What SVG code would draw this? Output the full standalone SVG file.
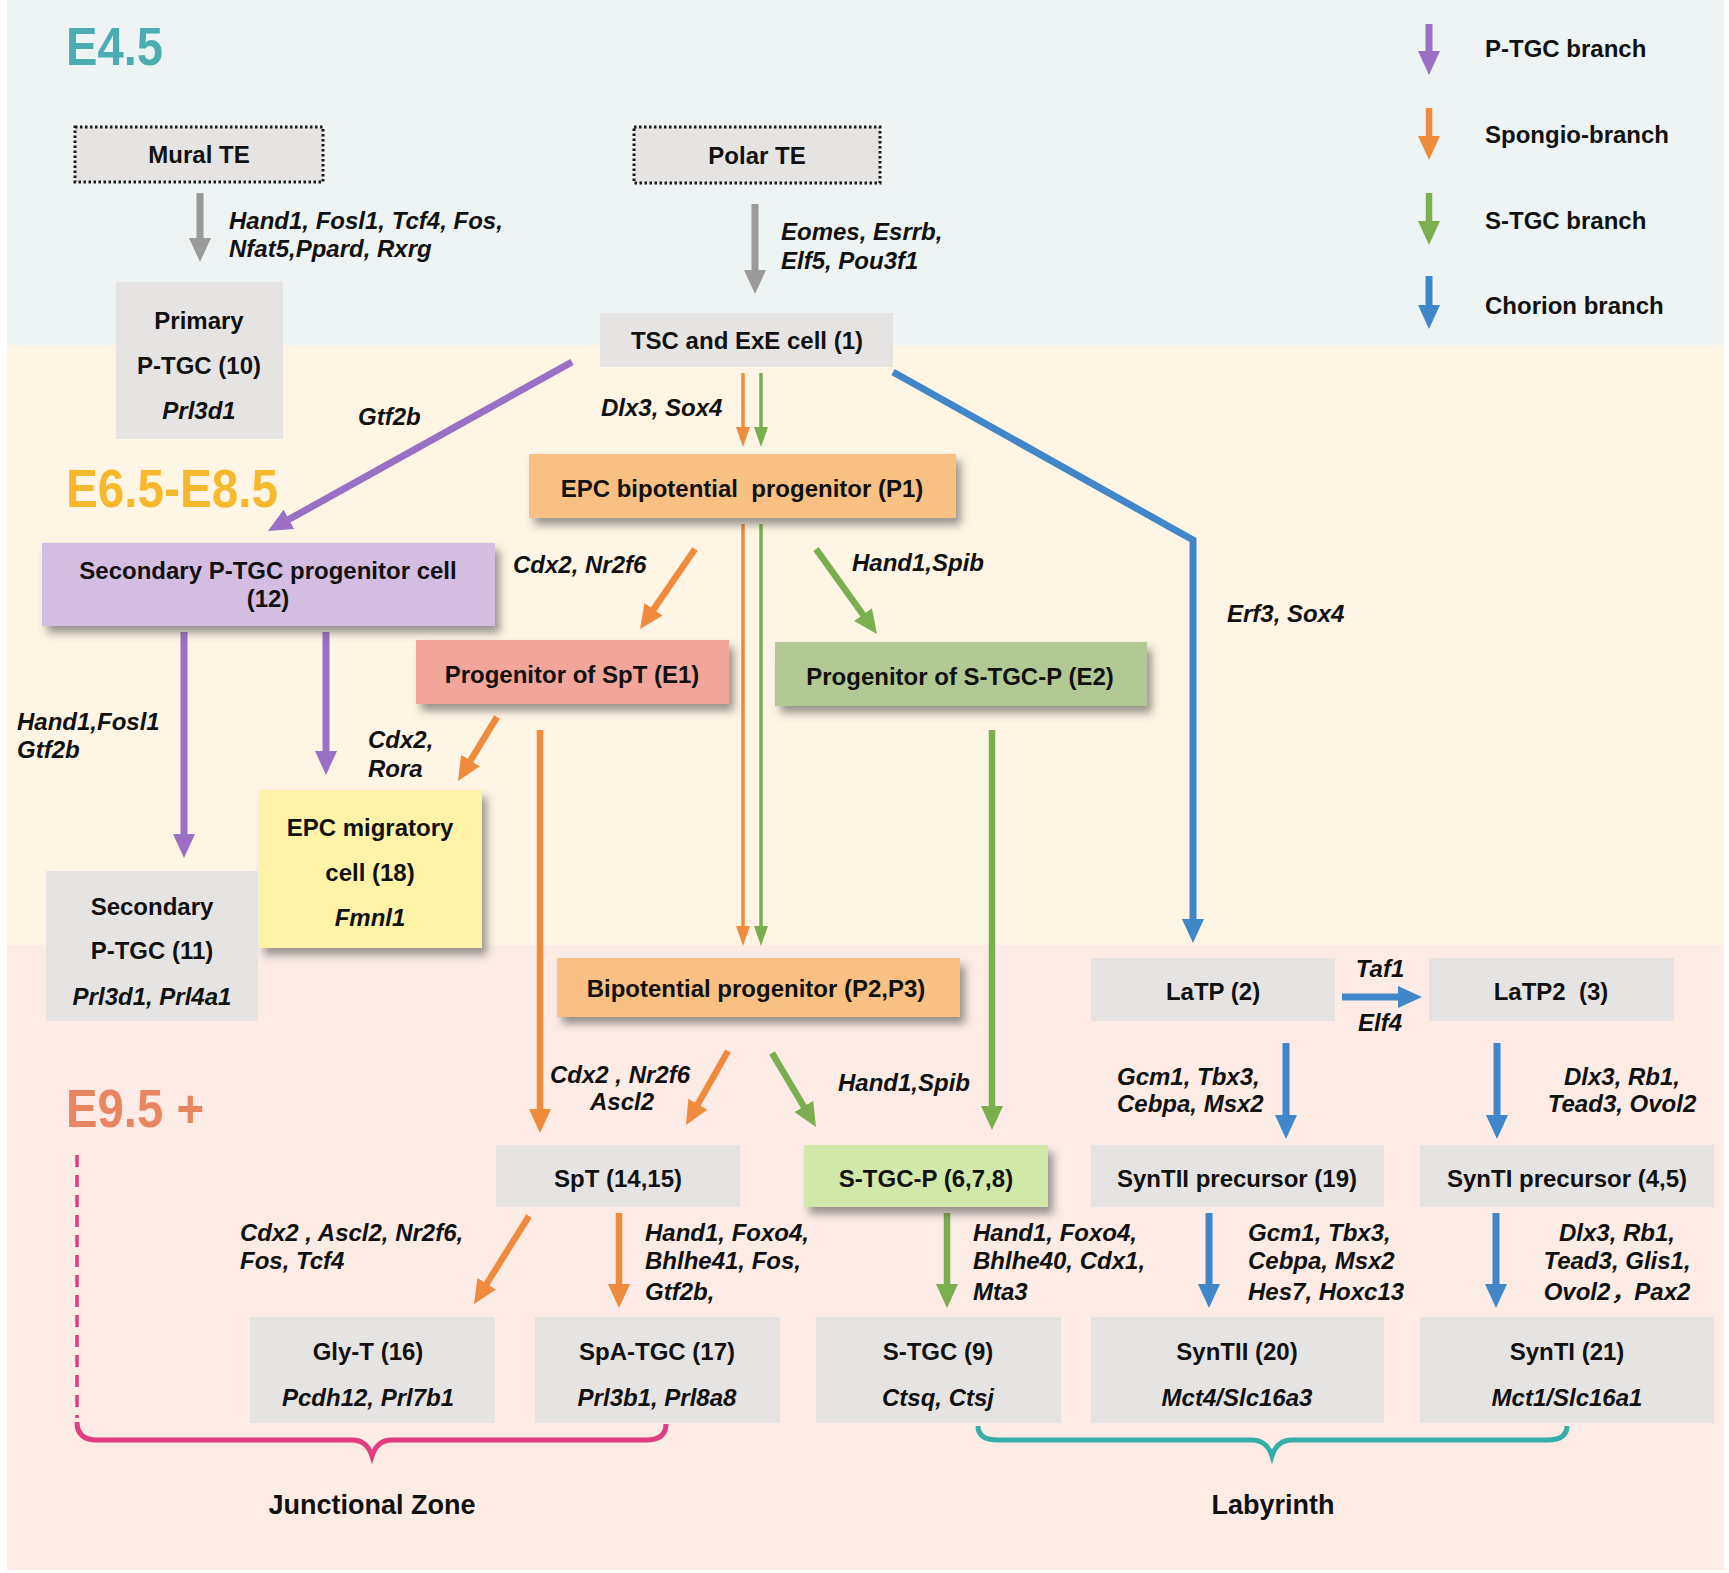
<svg xmlns="http://www.w3.org/2000/svg" width="1729" height="1573" viewBox="0 0 1729 1573">
<defs>
<style>
.t{font-family:"Liberation Sans",Arial,sans-serif;font-weight:bold;font-size:24px;fill:#111}
.i{font-style:italic}
.m{text-anchor:middle}
.pre{white-space:pre}
.stage{font-family:"Liberation Sans",Arial,sans-serif;font-weight:bold;font-size:53px}
.box{fill:#E6E4E2}
.dot{fill:#E6E4E2;stroke:#1a1a1a;stroke-width:3;stroke-dasharray:2.5 2.5}
.sh{filter:url(#shadow)}
.ln{fill:none;stroke-linecap:butt}
.gray{stroke:#9A9A9A;stroke-width:7;marker-end:url(#hGray)}
.pur{stroke:#9B6FC3;stroke-width:7;marker-end:url(#hPur)}
.org{stroke:#F08A3C;stroke-width:6.5;marker-end:url(#hOrg)}
.grn{stroke:#7BAE4F;stroke-width:6.5;marker-end:url(#hGrn)}
.blu{stroke:#3F87C9;stroke-width:7;marker-end:url(#hBlu)}
.orgT{stroke:#F08A3C;stroke-width:3.5;marker-end:url(#tOrg)}
.grnT{stroke:#7BAE4F;stroke-width:3.5;marker-end:url(#tGrn)}
</style>
<filter id="shadow" x="-10%" y="-20%" width="130%" height="160%">
<feDropShadow dx="5" dy="7" stdDeviation="4" flood-color="#4a4a4a" flood-opacity="0.55"/>
</filter>
<marker id="hGray" markerUnits="userSpaceOnUse" markerWidth="24" markerHeight="22" viewBox="0 0 24 22" refX="5" refY="11" orient="auto"><path d="M0,0 L24,11 L0,22 z" fill="#9A9A9A"/></marker>
<marker id="hPur" markerUnits="userSpaceOnUse" markerWidth="24" markerHeight="22" viewBox="0 0 24 22" refX="5" refY="11" orient="auto"><path d="M0,0 L24,11 L0,22 z" fill="#9B6FC3"/></marker>
<marker id="hOrg" markerUnits="userSpaceOnUse" markerWidth="24" markerHeight="22" viewBox="0 0 24 22" refX="5" refY="11" orient="auto"><path d="M0,0 L24,11 L0,22 z" fill="#F08A3C"/></marker>
<marker id="hGrn" markerUnits="userSpaceOnUse" markerWidth="24" markerHeight="22" viewBox="0 0 24 22" refX="5" refY="11" orient="auto"><path d="M0,0 L24,11 L0,22 z" fill="#7BAE4F"/></marker>
<marker id="hBlu" markerUnits="userSpaceOnUse" markerWidth="24" markerHeight="22" viewBox="0 0 24 22" refX="5" refY="11" orient="auto"><path d="M0,0 L24,11 L0,22 z" fill="#3F87C9"/></marker>
<marker id="tOrg" markerUnits="userSpaceOnUse" markerWidth="20" markerHeight="14" viewBox="0 0 20 14" refX="4" refY="7" orient="auto"><path d="M0,0 L20,7 L0,14 z" fill="#F08A3C"/></marker>
<marker id="tGrn" markerUnits="userSpaceOnUse" markerWidth="20" markerHeight="14" viewBox="0 0 20 14" refX="4" refY="7" orient="auto"><path d="M0,0 L20,7 L0,14 z" fill="#7BAE4F"/></marker>
</defs>
<rect width="1729" height="1573" fill="#FFFFFF"/>
<g id="bands">
<rect x="7" y="0" width="1717" height="345" fill="#EEF4F4"/>
<rect x="7" y="345" width="1717" height="600" fill="#FFF5E5"/>
<rect x="7" y="945" width="1717" height="625" fill="#FCECE5"/>
</g>
<g id="stages">
<text class="stage" x="66" y="65" textLength="97" lengthAdjust="spacingAndGlyphs" fill="#4BADB1">E4.5</text>
<text class="stage" x="66" y="507" textLength="212" lengthAdjust="spacingAndGlyphs" fill="#F6B92E">E6.5-E8.5</text>
<text class="stage" x="66" y="1127" textLength="138" lengthAdjust="spacingAndGlyphs" fill="#E98560">E9.5 +</text>
</g>
<g id="legend">
<line class="ln pur" x1="1429" y1="24" x2="1429" y2="56" stroke-width="6"/>
<line class="ln org" x1="1429" y1="108" x2="1429" y2="141" stroke-width="6"/>
<line class="ln grn" x1="1429" y1="193" x2="1429" y2="226" stroke-width="6"/>
<line class="ln blu" x1="1429" y1="276" x2="1429" y2="310" stroke-width="6"/>
<text class="t" x="1485" y="57">P-TGC branch</text>
<text class="t" x="1485" y="143">Spongio-branch</text>
<text class="t" x="1485" y="229">S-TGC branch</text>
<text class="t" x="1485" y="314">Chorion branch</text>
</g>
<g id="connectors">
<line class="ln gray" x1="200" y1="193" x2="200" y2="243"/>
<line class="ln gray" x1="755" y1="204" x2="755" y2="275"/>
<line class="ln pur" x1="572" y1="362" x2="284.6" y2="521.8"/>
<line class="ln orgT" x1="743" y1="373" x2="743" y2="431"/>
<line class="ln grnT" x1="761" y1="373" x2="761" y2="431"/>
<polyline class="ln blu" points="893,372 1193,540 1193,924"/>
<line class="ln org" x1="695" y1="549" x2="650.8" y2="613.3"/>
<line class="ln grn" x1="816" y1="549" x2="865.9" y2="618.6"/>
<line class="ln orgT" x1="743" y1="524" x2="743" y2="930"/>
<line class="ln grnT" x1="761" y1="524" x2="761" y2="930"/>
<line class="ln pur" x1="184" y1="632" x2="184" y2="839"/>
<line class="ln pur" x1="326" y1="632" x2="326" y2="756"/>
<line class="ln org" x1="497" y1="717" x2="467.9" y2="764.8"/>
<line class="ln org" x1="540" y1="730" x2="540" y2="1114"/>
<line class="ln grn" x1="992" y1="730" x2="992" y2="1111"/>
<line class="ln org" x1="728" y1="1051" x2="695.4" y2="1108.5"/>
<line class="ln grn" x1="772" y1="1053" x2="806.3" y2="1110.7"/>
<line class="ln blu" x1="1342" y1="997" x2="1403" y2="997"/>
<line class="ln blu" x1="1286" y1="1043" x2="1286" y2="1120"/>
<line class="ln blu" x1="1497" y1="1043" x2="1497" y2="1120"/>
<line class="ln org" x1="529" y1="1216" x2="484.1" y2="1287.9"/>
<line class="ln org" x1="619" y1="1213" x2="619" y2="1289"/>
<line class="ln grn" x1="947" y1="1213" x2="947" y2="1289"/>
<line class="ln blu" x1="1209" y1="1213" x2="1209" y2="1289"/>
<line class="ln blu" x1="1496" y1="1213" x2="1496" y2="1289"/>
</g>
<g id="connector-labels">
<text class="t i" x="229" y="229">Hand1, Fosl1, Tcf4, Fos,</text>
<text class="t i" x="229" y="257">Nfat5,Ppard, Rxrg</text>
<text class="t i" x="781" y="240">Eomes, Esrrb,</text>
<text class="t i" x="781" y="269">Elf5, Pou3f1</text>
<text class="t i" x="358" y="425">Gtf2b</text>
<text class="t i" x="601" y="416">Dlx3, Sox4</text>
<text class="t i" x="1227" y="622">Erf3, Sox4</text>
<text class="t i" x="513" y="573">Cdx2, Nr2f6</text>
<text class="t i" x="852" y="571">Hand1,Spib</text>
<text class="t i" x="17" y="730">Hand1,Fosl1</text>
<text class="t i" x="17" y="758">Gtf2b</text>
<text class="t i" x="368" y="748">Cdx2,</text>
<text class="t i" x="368" y="777">Rora</text>
<text class="t i m" x="620" y="1083">Cdx2 , Nr2f6</text>
<text class="t i m" x="622" y="1110">Ascl2</text>
<text class="t i" x="838" y="1091">Hand1,Spib</text>
<text class="t i m" x="1380" y="977">Taf1</text>
<text class="t i m" x="1380" y="1031">Elf4</text>
<text class="t i" x="1117" y="1085">Gcm1, Tbx3,</text>
<text class="t i" x="1117" y="1112">Cebpa, Msx2</text>
<text class="t i m" x="1622" y="1085">Dlx3, Rb1,</text>
<text class="t i m" x="1622" y="1112">Tead3, Ovol2</text>
<text class="t i" x="240" y="1241">Cdx2 , Ascl2, Nr2f6,</text>
<text class="t i" x="240" y="1269">Fos, Tcf4</text>
<text class="t i" x="645" y="1241">Hand1, Foxo4,</text>
<text class="t i" x="645" y="1269">Bhlhe41, Fos,</text>
<text class="t i" x="645" y="1300">Gtf2b,</text>
<text class="t i" x="973" y="1241">Hand1, Foxo4,</text>
<text class="t i" x="973" y="1269">Bhlhe40, Cdx1,</text>
<text class="t i" x="973" y="1300">Mta3</text>
<text class="t i" x="1248" y="1241">Gcm1, Tbx3,</text>
<text class="t i" x="1248" y="1269">Cebpa, Msx2</text>
<text class="t i" x="1248" y="1300">Hes7, Hoxc13</text>
<text class="t i m" x="1617" y="1241">Dlx3, Rb1,</text>
<text class="t i m" x="1617" y="1269">Tead3, Glis1,</text>
<text class="t i m" x="1617" y="1300" style="font-family:'Liberation Sans','Noto Sans CJK SC',sans-serif">Ovol2，Pax2</text>
</g>
<g id="mural-te"><rect class="dot" x="75" y="127" width="248" height="55"/><text class="t m" x="199" y="163">Mural TE</text></g>
<g id="polar-te"><rect class="dot" x="634" y="127" width="246" height="56"/><text class="t m" x="757" y="164">Polar TE</text></g>
<g id="primary-ptgc"><rect class="box" x="116" y="282" width="167" height="157"/><text class="t m" x="199" y="329">Primary</text><text class="t m" x="199" y="374">P-TGC (10)</text><text class="t m i" x="199" y="419">Prl3d1</text></g>
<g id="tsc"><rect class="box" x="600" y="313" width="293" height="54"/><text class="t m" x="747" y="349">TSC and ExE cell (1)</text></g>
<g id="epc-p1"><rect class="sh" fill="#F8C083" x="529" y="454" width="427" height="64"/><text class="t m pre" x="742" y="497">EPC bipotential  progenitor (P1)</text></g>
<g id="sec-ptgc-prog"><rect class="sh" fill="#D3BDE0" x="42" y="543" width="453" height="83"/><text class="t m" x="268" y="579">Secondary P-TGC progenitor cell</text><text class="t m" x="268" y="607">(12)</text></g>
<g id="prog-spt"><rect class="sh" fill="#F2A69A" x="416" y="640" width="313" height="64"/><text class="t m" x="572" y="683">Progenitor of SpT (E1)</text></g>
<g id="prog-stgcp"><rect class="sh" fill="#B2C994" x="775" y="642" width="372" height="64"/><text class="t m" x="960" y="685">Progenitor of S-TGC-P (E2)</text></g>
<g id="epc-mig"><rect class="sh" fill="#FFF3A8" x="259" y="790" width="223" height="158"/><text class="t m" x="370" y="836">EPC migratory</text><text class="t m" x="370" y="881">cell (18)</text><text class="t m i" x="370" y="926">Fmnl1</text></g>
<g id="sec-ptgc"><rect class="box" x="46" y="871" width="212" height="150"/><text class="t m" x="152" y="915">Secondary</text><text class="t m" x="152" y="959">P-TGC (11)</text><text class="t m i" x="152" y="1005">Prl3d1, Prl4a1</text></g>
<g id="bipot"><rect class="sh" fill="#F8C083" x="557" y="958" width="403" height="59"/><text class="t m" x="756" y="997">Bipotential progenitor (P2,P3)</text></g>
<g id="latp"><rect class="box" x="1091" y="958" width="244" height="63"/><text class="t m" x="1213" y="1000">LaTP (2)</text></g>
<g id="latp2"><rect class="box" x="1429" y="958" width="245" height="63"/><text class="t m pre" x="1551" y="1000">LaTP2  (3)</text></g>
<g id="spt"><rect class="box" x="496" y="1145" width="244" height="62"/><text class="t m" x="618" y="1187">SpT (14,15)</text></g>
<g id="stgcp"><rect class="sh" fill="#D1E8A9" x="804" y="1145" width="244" height="62"/><text class="t m" x="926" y="1187">S-TGC-P (6,7,8)</text></g>
<g id="syntii-prec"><rect class="box" x="1091" y="1145" width="293" height="62"/><text class="t m" x="1237" y="1187">SynTII precursor (19)</text></g>
<g id="synti-prec"><rect class="box" x="1420" y="1145" width="294" height="62"/><text class="t m" x="1567" y="1187">SynTI precursor (4,5)</text></g>
<g id="glyt"><rect class="box" x="250" y="1317" width="245" height="106"/><text class="t m" x="368" y="1360">Gly-T (16)</text><text class="t m i" x="368" y="1406">Pcdh12, Prl7b1</text></g>
<g id="spatgc"><rect class="box" x="535" y="1317" width="245" height="106"/><text class="t m" x="657" y="1360">SpA-TGC (17)</text><text class="t m i" x="657" y="1406">Prl3b1, Prl8a8</text></g>
<g id="stgc"><rect class="box" x="816" y="1317" width="245" height="106"/><text class="t m" x="938" y="1360">S-TGC (9)</text><text class="t m i" x="938" y="1406">Ctsq, Ctsj</text></g>
<g id="syntii"><rect class="box" x="1091" y="1317" width="293" height="106"/><text class="t m" x="1237" y="1360">SynTII (20)</text><text class="t m i" x="1237" y="1406">Mct4/Slc16a3</text></g>
<g id="synti"><rect class="box" x="1420" y="1317" width="294" height="106"/><text class="t m" x="1567" y="1360">SynTI (21)</text><text class="t m i" x="1567" y="1406">Mct1/Slc16a1</text></g>
<g id="zones">
<line x1="77" y1="1155" x2="77" y2="1418" stroke="#E23C82" stroke-width="3.5" stroke-dasharray="12 8"/>
<path d="M77,1422 Q77,1440 97,1440 L352,1440 Q367,1440 372,1456 Q377,1440 392,1440 L646,1440 Q666,1440 666,1424" fill="none" stroke="#E23C82" stroke-width="5"/>
<path d="M978,1426 Q978,1440 998,1440 L1252,1440 Q1267,1440 1272,1456 Q1277,1440 1292,1440 L1547,1440 Q1567,1440 1567,1426" fill="none" stroke="#35ADA8" stroke-width="5"/>
<text class="t m" x="372" y="1514" style="font-size:27px">Junctional Zone</text>
<text class="t m" x="1273" y="1514" style="font-size:27px">Labyrinth</text>
</g>
</svg>
